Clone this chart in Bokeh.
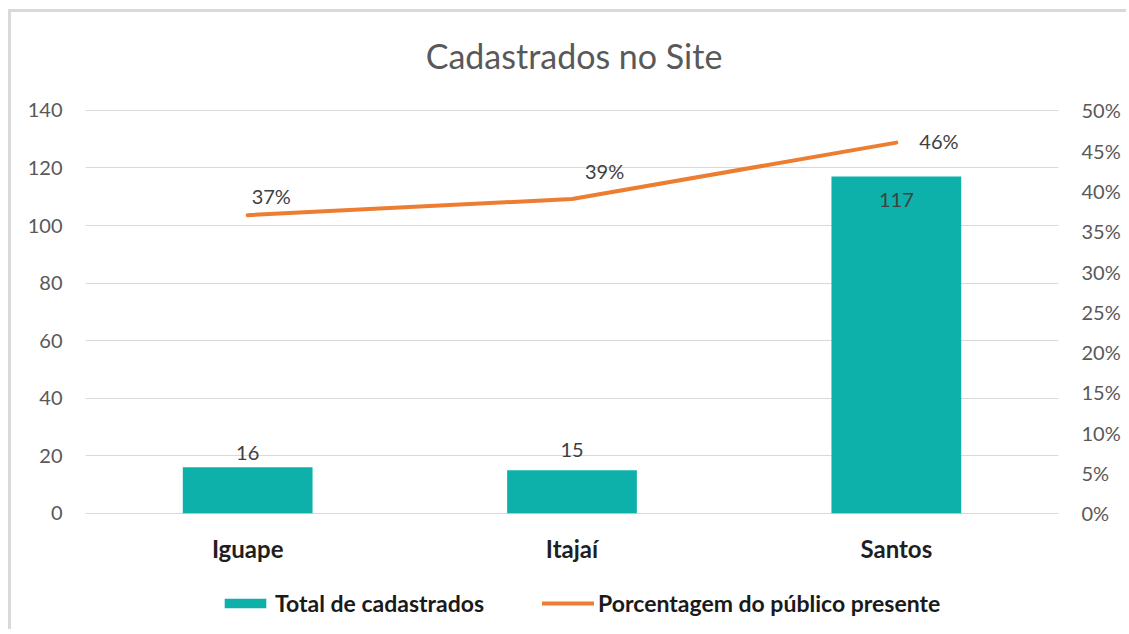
from bokeh.plotting import figure
from bokeh.models import (ColumnDataSource, Range1d, LinearAxis, FixedTicker,
                          NumeralTickFormatter, Legend, LegendItem, FactorRange)
from bokeh.core.properties import value
from bokeh.embed import file_html
from bokeh.resources import INLINE

# ---- data ----
categories = ["Iguape", "Itajaí", "Santos"]
cadastrados = [16, 15, 117]
porcentagem = [0.37, 0.39, 0.46]
left_ticks = [0, 20, 40, 60, 80, 100, 120, 140]
right_ticks = [0, 0.05, 0.10, 0.15, 0.20, 0.25, 0.30, 0.35, 0.40, 0.45, 0.50]
title_text = "Cadastrados no Site"
bar_label_name = "Total de cadastrados"
line_label_name = "Porcentagem do público presente"

# ---- styles ----
FONT = "Lato"
TEAL = "#0DB1A9"
ORANGE = "#ED7D31"
GREY = "#595959"
GRID = "#D9D9D9"

# axis scale: 140 units <-> 50 % ; frame extended above/below to host title & legend
Y_MIN, Y_MAX = -40, 174
PCT_PER_UNIT = 0.5 / 140

# label offsets (pixels) – styling only
bar_lbl_yoff = [-14, -20, 23]
pct_lbl_xoff = [4, 13, 23]
pct_lbl_yoff = [-19, -28, -2]

p = figure(x_range=FactorRange(*categories), y_range=Range1d(Y_MIN, Y_MAX),
           width=1118, height=620, output_backend="svg", toolbar_location=None,
           title=None,
           min_border_left=74, min_border_right=71, min_border_top=0,
           min_border_bottom=4)
p.styles = {"border-top": "3px solid #D9D9D9", "border-left": "3px solid #D9D9D9",
            "margin-left": "8px", "margin-top": "9px"}
p.extra_y_ranges = {"pct": Range1d(Y_MIN * PCT_PER_UNIT, Y_MAX * PCT_PER_UNIT)}

p.outline_line_color = None
p.xgrid.grid_line_color = None
p.ygrid.grid_line_color = GRID
p.ygrid.grid_line_width = 1
p.background_fill_color = "white"
p.border_fill_color = "white"

src = ColumnDataSource(dict(
    x=categories, y=cadastrados,
    lbl=[str(v) for v in cadastrados],
    yo=bar_lbl_yoff,
))
psrc = ColumnDataSource(dict(
    x=categories, y=porcentagem,
    lbl=[f"{round(v * 100)}%" for v in porcentagem],
    xo=pct_lbl_xoff, yo=pct_lbl_yoff,
))

bars = p.vbar(x="x", top="y", width=0.4, source=src, fill_color=TEAL, line_color=None)
line = p.line(x="x", y="y", source=psrc, y_range_name="pct", line_color=ORANGE,
              line_width=4, line_cap="round", line_join="round")

# data labels
p.text(x="x", y="y", text="lbl", source=src, y_offset="yo",
       text_align="center", text_baseline="middle", text_font=value(FONT),
       text_font_size="20px", text_color="#404040")
p.text(x="x", y="y", text="lbl", source=psrc, y_range_name="pct",
       x_offset="xo", y_offset="yo",
       text_align="left", text_baseline="middle", text_font=value(FONT),
       text_font_size="20px", text_color="#404040")

# category labels (below the 0 baseline)
p.text(x=categories, y=[0] * len(categories), text=categories, y_offset=35,
       text_align="center", text_baseline="middle", text_font=value(FONT),
       text_font_size="24px", text_font_style="bold", text_color="#1F1F1F")

# title (centred over the middle category, above the top gridline)
p.text(x=[categories[1]], y=[left_ticks[-1]], text=[title_text], y_offset=-55,
       x_offset=2, text_align="center", text_baseline="middle",
       text_font=value(FONT), text_font_size="34px", text_color=GREY)

# left axis
la = p.yaxis[0]
la.ticker = FixedTicker(ticks=left_ticks)
# right axis
ra = LinearAxis(y_range_name="pct", ticker=FixedTicker(ticks=right_ticks),
                formatter=NumeralTickFormatter(format="0%"))
p.add_layout(ra, "right")

for ax in (la, ra):
    ax.axis_line_color = None
    ax.major_tick_line_color = None
    ax.minor_tick_line_color = None
    ax.major_label_text_font = FONT
    ax.major_label_text_font_size = "20px"
    ax.major_label_text_color = GREY
    ax.major_label_standoff = 17

p.xaxis.visible = False

legend = Legend(items=[LegendItem(label=bar_label_name, renderers=[bars]),
                       LegendItem(label=line_label_name, renderers=[line])],
                orientation="horizontal", location=(134, 11),
                border_line_color=None, background_fill_alpha=0,
                glyph_width=52, glyph_height=12, label_standoff=4, spacing=58,
                label_text_font=FONT, label_text_font_size="23px",
                label_text_font_style="bold", label_text_color="#1A1A1A",
                margin=0, padding=0)
p.add_layout(legend, "center")

open("out.html", "w").write(file_html(p, INLINE))
